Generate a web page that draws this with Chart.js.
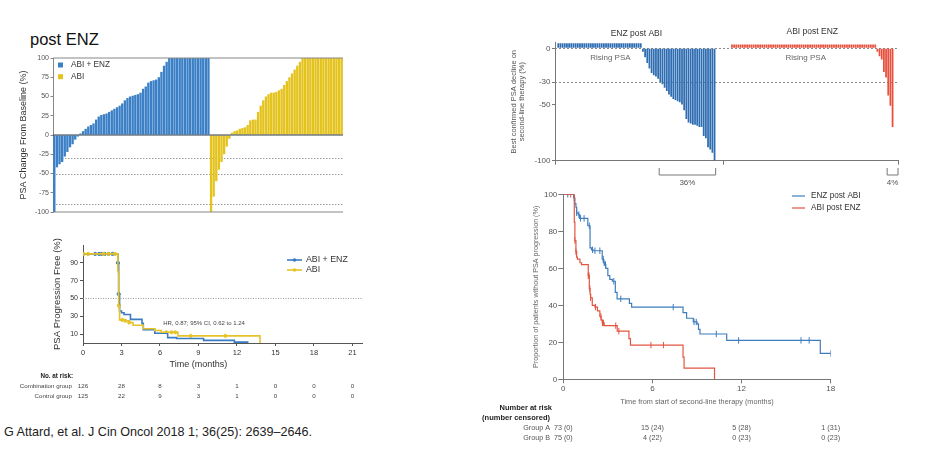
<!DOCTYPE html>
<html><head><meta charset="utf-8">
<script src="https://cdn.jsdelivr.net/npm/chart.js@4.4.0/dist/chart.umd.min.js"></script>
<style>
html,body{margin:0;padding:0;background:#fff;width:936px;height:452px;overflow:hidden;font-family:"Liberation Sans",Arial,sans-serif;}
canvas{position:absolute;}
#title{position:absolute;left:30px;top:31px;font-size:16.5px;line-height:1;color:#111;}
#cite{position:absolute;left:4px;top:425.5px;font-size:12.6px;line-height:1;color:#222;white-space:nowrap;}
</style></head><body>
<div id="title">post ENZ</div>
<div id="cite">G Attard, et al. J Cin Oncol 2018 1; 36(25): 2639–2646.</div>
<canvas id="cA" width="350" height="175" style="left:0;top:45px"></canvas>
<canvas id="cB" width="375" height="175" style="left:0;top:235px"></canvas>
<canvas id="cC" width="420" height="175" style="left:490px;top:20px"></canvas>
<canvas id="cD" width="430" height="265" style="left:480px;top:185px"></canvas>
<script>
// ---------- Chart A: waterfall (post ENZ) ----------
const aBlueValues = [-100,-42,-38,-35,-28,-22,-16,-12,-6,-2,2,5,8,11,13,15,20,24,26,27,28,30,32,34,36,38,41,45,48,50,51,52,53,55,60,63,68,70,71,72,75,82,90,95,100,100,100,100,100,100,100,100,100,100,100,100,100,100,100,100];
const aYellowValues = [-100,-80,-60,-45,-35,-25,-15,-5,3,5,6,8,9,10,13,19,20,20,30,38,45,50,53,55,55,56,58,60,65,70,75,80,85,90,95,100,100,100,100,100,100,100,100,100,100,100,100,100,100,100,100];
const aSeriesNames = ['ABI + ENZ','ABI'];
const aYTicks = [-100,-75,-50,-25,0,25,50,75,100];
const aRefLines = [-30,-50,-90];

// ---------- Chart B: KM PSA progression free ----------
const bComboCurve = [[0,100],[2.68,100],[2.72,90],[2.78,55],[2.85,36],[3.0,34],[3.2,32],[3.7,26.5],[4.6,22],[4.7,15],[5.6,11],[6.6,6],[7.3,5],[9.4,3],[11.8,1],[12.9,1]];
const bControlCurve = [[0,100],[2.66,100],[2.72,80],[2.78,42],[2.85,26],[3.3,25],[3.6,23],[3.9,20],[4.7,16],[5.6,14],[6.1,12],[7.4,8],[13.8,8],[13.8,0]];
const bComboCensor = [0.95,1.25,1.45,1.7,2.0,2.3,2.72,2.78];
const bControlCensor = [0.05,0.4,1.6,2.0,2.5,2.8,3.05,3.3,3.6,6.5,6.9,7.2,8.4,11.1];
const bSeriesNames = ['ABI + ENZ','ABI'];
const bXTicks = [0,3,6,9,12,15,18,21];
const bYTicks = [10,20,30,40,50,60,70,80,90,100];
const bRiskCombo = [126,28,8,3,1,0,0,0];
const bRiskControl = [125,22,9,3,1,0,0,0];
const bHR = 'HR, 0.87; 95% CI, 0.62 to 1.24';

// ---------- Chart C: best PSA decline waterfall ----------
const cBlueValues = [4.5,4.5,4.5,4.5,4.5,4.5,4.5,4.5,4.5,4.5,
 4.5,4.5,4.5,4.5,4.5,4.5,4.5,4.5,4.5,4.5,
 4.5,4.5,4.5,4.5,4.5,4.5,4.5,4.5,4.5,4.5,
 4.5,4.5,4.5,4.5,4.5,4.5,4.5,4.5,4.5,
 -3,-8,-13,-18,-22,-24,-25,-27,-30,-32,-35,-38,-41,-43,-45,-46,-47,-48,-50,-55,-63,-66,-67,-68,-68,-69,-70,-70,-78,-80,-88,-90,-93,-100];
const cRedValues = [3.5,3.5,3.5,3.5,3.5,3.5,3.5,3.5,3.5,3.5,
 3.5,3.5,3.5,3.5,3.5,3.5,3.5,3.5,3.5,3.5,
 3.5,3.5,3.5,3.5,3.5,3.5,3.5,3.5,3.5,3.5,
 3.5,3.5,3.5,3.5,3.5,3.5,3.5,3.5,3.5,3.5,
 3.5,3.5,3.5,3.5,3.5,3.5,3.5,3.5,3.5,3.5,
 3.5,3.5,3.5,3.5,3.5,3.5,3.5,3.5,3.5,3.5,
 3.5,3.5,3.5,3.5,3.5,3.5,3.5,
 -3,-7,-10,-21,-26,-42,-51,-70];
const cGroupNames = ['ENZ post ABI','ABI post ENZ'];
const cYTicks = [-100,-50,-30,0];
const cRefLines = [0,-30];
const cBracketLabels = ['36%','4%'];

// ---------- Chart D: KM proportion without PSA progression ----------
const dEnzCurve = [[0,100],[0.7,98],[0.78,95],[0.85,93],[0.9,90],[1.0,89],[1.1,87],[1.65,83],[1.8,71],[1.9,70],[2.0,69.5],[2.62,65],[2.7,63],[2.78,62],[2.86,60],[3.0,56],[3.13,54],[3.3,53],[3.5,47],[3.62,43.5],[4.45,41],[4.6,39],[8.06,36],[8.3,33],[8.75,31],[9.0,30],[9.1,27],[9.2,24.5],[11.0,21],[17.3,14],[18.0,14]];
const dAbiCurve = [[0,100],[0.74,85],[0.78,75],[0.85,69],[0.9,66],[0.95,65],[1.12,63],[1.23,62],[1.68,56],[1.75,49],[1.8,46],[1.84,44],[1.95,40],[2.13,39],[2.3,37],[2.46,34],[2.55,32],[2.62,30.5],[2.75,29],[3.63,26],[4.42,22],[4.52,18.5],[8.06,12],[8.13,6],[10.18,0]];
const dEnzCensor = [0.3,0.74,0.9,1.05,1.16,1.4,1.75,1.97,2.13,2.46,2.69,2.75,2.84,3.4,3.87,7.4,8.8,8.95,10.3,11.8,16.0,16.55,18.0];
const dAbiCensor = [0.5,0.78,0.85,1.68,1.73,1.79,1.84,2.17,2.53,2.64,2.7,3.53,3.74,5.9,6.74];
const dSeriesNames = ['ENZ post ABI','ABI post ENZ'];
const dXTicks = [0,6,12,18];
const dYTicks = [0,20,40,60,80,100];
const dRiskA = ['73 (0)','15 (24)','5 (28)','1 (31)'];
const dRiskB = ['75 (0)','4 (22)','0 (23)','0 (23)'];

// ---------- helpers ----------
const FONT = '"Liberation Sans", Arial, sans-serif';
Chart.defaults.font.family = FONT;
function txt(ctx, s, x, y, size, color, align, weight){
  ctx.save(); ctx.font = (weight||'normal')+' '+size+'px '+FONT; ctx.fillStyle = color;
  ctx.textAlign = align||'left'; ctx.textBaseline = 'middle'; ctx.fillText(s, x, y); ctx.restore();
}
function hline(ctx, x1, x2, y, color, w, dash){
  ctx.save(); ctx.strokeStyle = color; ctx.lineWidth = w; ctx.setLineDash(dash||[]);
  ctx.beginPath(); ctx.moveTo(x1, y); ctx.lineTo(x2, y); ctx.stroke(); ctx.restore();
}
function stepAt(curve, t){ let v = curve[0][1]; for (const p of curve){ if (p[0] <= t) v = p[1]; } return v; }
const toXY = c => c.map(p => ({x:p[0], y:p[1]}));
const censorXY = (times, curve) => times.map(t => ({x:t, y:stepAt(curve, t)}));
const fixTicks = arr => (s => { s.ticks = arr.map(v => ({value:v})); });
// Kaplan-Meier step: horizontal first, then vertical drop at the next time
const KM_STEP = 'before';

// ---------- Chart A ----------
const A_BLUE = '#3b80c6', A_YELLOW = '#e4c31e';
const aCats = aBlueValues.concat(aYellowValues).map((_, i) => String(i + 1));
new Chart(document.getElementById('cA'), {
  type:'bar',
  data:{labels:aCats, datasets:[
    {label:aSeriesNames[0], data:aBlueValues.concat(aYellowValues.map(() => null)), backgroundColor:A_BLUE, grouped:false, barPercentage:0.9, categoryPercentage:1},
    {label:aSeriesNames[1], data:aBlueValues.map(() => null).concat(aYellowValues), backgroundColor:A_YELLOW, grouped:false, barPercentage:0.9, categoryPercentage:1}
  ]},
  options:{responsive:false, animation:false, devicePixelRatio:1,
    layout:{padding:{top:13, right:7, bottom:8, left:0}},
    plugins:{legend:{display:false}, tooltip:{enabled:false}},
    scales:{
      x:{display:false, offset:true},
      y:{min:-100, max:100, afterBuildTicks:fixTicks(aYTicks), afterFit:s => { s.width = 53; },
        ticks:{font:{size:7}, color:'#555', padding:1.5},
        grid:{drawOnChartArea:false, tickLength:2.5, color:'#888'}, border:{color:'#888'},
        title:{display:true, text:'PSA Change From Baseline (%)', font:{size:9}, color:'#333', padding:{top:18.5, bottom:0}}}
    }},
  plugins:[{id:'aDeco',
    beforeDatasetsDraw(c){
      const {ctx, chartArea:ca, scales:{y}} = c;
      aRefLines.forEach(v => hline(ctx, ca.left, ca.right, Math.round(y.getPixelForValue(v)) + 0.5, '#9a9a9a', 1, [1.5, 1.5]));
    },
    afterDatasetsDraw(c){
      const {ctx, chartArea:ca, scales:{y}} = c;
      hline(ctx, ca.left, ca.right, y.getPixelForValue(0), '#2a3b4f', 1.2);
      hline(ctx, ca.left, ca.right, ca.top, '#888', 1.2);
      hline(ctx, ca.left, ca.right, ca.bottom, '#888', 1.2);
      c.data.datasets.forEach((ds, i) => {
        const yy = ca.top + 7 + i * 11.7;
        ctx.fillStyle = ds.backgroundColor; ctx.fillRect(ca.left + 5, yy - 2.5, 5, 5);
        txt(ctx, ds.label, ca.left + 18, yy, 8.2, '#333');
      });
    }}]
});

// ---------- Chart B ----------
const B_BLUE = '#3a7cc2', B_YELLOW = '#e5c32a';
new Chart(document.getElementById('cB'), {
  type:'line',
  data:{datasets:[
    {label:bSeriesNames[1], data:toXY(bControlCurve), borderColor:B_YELLOW, borderWidth:1.6, stepped:KM_STEP, pointRadius:0, fill:false},
    {label:bSeriesNames[0], data:toXY(bComboCurve), borderColor:B_BLUE, borderWidth:1.6, stepped:KM_STEP, pointRadius:0, fill:false},
    {label:'c1', data:censorXY(bControlCensor, bControlCurve), showLine:false, pointRadius:1.6, pointBackgroundColor:B_YELLOW, pointBorderColor:B_YELLOW, borderColor:B_YELLOW},
    {label:'c2', data:censorXY(bComboCensor, bComboCurve), showLine:false, pointRadius:1.6, pointBackgroundColor:B_BLUE, pointBorderColor:B_BLUE, borderColor:B_BLUE}
  ]},
  options:{responsive:false, animation:false, devicePixelRatio:1,
    layout:{padding:{top:10, right:13, bottom:53, left:0}},
    plugins:{legend:{display:false}, tooltip:{enabled:false}},
    scales:{
      x:{type:'linear', min:0, max:21.75, afterBuildTicks:fixTicks(bXTicks), afterFit:s => { s.height = 14; },
        ticks:{font:{size:7.5}, color:'#333', padding:2, maxRotation:0},
        grid:{drawOnChartArea:false, tickLength:3, color:'#555'}, border:{color:'#555'}},
      y:{min:0, max:110, afterBuildTicks:fixTicks(bYTicks), afterFit:s => { s.width = 83; },
        ticks:{font:{size:7}, color:'#333', padding:2},
        grid:{drawOnChartArea:false, tickLength:3, color:'#555'}, border:{color:'#555'},
        title:{display:true, text:'PSA Progression Free (%)', font:{size:9.5}, color:'#333', padding:{top:52, bottom:0}}}
    }},
  plugins:[{id:'bDeco',
    beforeDatasetsDraw(c){
      const {ctx, chartArea:ca, scales:{y}} = c;
      hline(ctx, ca.left, ca.right, Math.round(y.getPixelForValue(50)) + 0.5, '#9a9a9a', 1, [1, 1.5]);
    },
    afterDraw(c){
      const {ctx, chartArea:ca, scales:{x, y}} = c;
      txt(ctx, 'Time (months)', x.getPixelForValue(9), 130, 9, '#333', 'center');
      txt(ctx, bHR, x.getPixelForValue(6.25), y.getPixelForValue(22.5), 6, '#444');
      // legend
      [[bSeriesNames[0], B_BLUE, 25], [bSeriesNames[1], B_YELLOW, 35]].forEach(([lab, col, yy]) => {
        hline(ctx, 287, 302, yy, col, 1.6);
        ctx.save(); ctx.fillStyle = col; ctx.beginPath(); ctx.arc(294.5, yy, 1.8, 0, Math.PI * 2); ctx.fill(); ctx.restore();
        txt(ctx, lab, 306, yy, 8.8, '#333');
      });
      // risk table
      txt(ctx, 'No. at risk:', 73, 141, 6.3, '#222', 'right', 'bold');
      txt(ctx, 'Combination group', 72, 151.7, 6.2, '#444', 'right');
      txt(ctx, 'Control group', 72, 161, 6.2, '#444', 'right');
      bXTicks.forEach((t, i) => {
        txt(ctx, String(bRiskCombo[i]), x.getPixelForValue(t), 151.7, 6.2, '#444', 'center');
        txt(ctx, String(bRiskControl[i]), x.getPixelForValue(t), 161, 6.2, '#444', 'center');
      });
    }}]
});

// ---------- Chart C ----------
const C_BLUE = '#2f6db2', C_RED = '#e8503e';
const cLead = 1, cGap = 7, cTail = 2;
const cTotal = cLead + cBlueValues.length + cGap + cRedValues.length + cTail;
const cCats = Array.from({length:cTotal}, (_, i) => String(i));
const cRedStart = cLead + cBlueValues.length + cGap;
const cBlueData = cCats.map((_, i) => (i >= cLead && i < cLead + cBlueValues.length) ? cBlueValues[i - cLead] : null);
const cRedData = cCats.map((_, i) => (i >= cRedStart && i < cRedStart + cRedValues.length) ? cRedValues[i - cRedStart] : null);
new Chart(document.getElementById('cC'), {
  type:'bar',
  data:{labels:cCats, datasets:[
    {label:cGroupNames[0], data:cBlueData, backgroundColor:C_BLUE, grouped:false, barPercentage:0.82, categoryPercentage:1},
    {label:cGroupNames[1], data:cRedData, backgroundColor:C_RED, grouped:false, barPercentage:0.82, categoryPercentage:1}
  ]},
  options:{responsive:false, animation:false, devicePixelRatio:1,
    layout:{padding:{top:22.7, right:12, bottom:34.3, left:0}},
    plugins:{legend:{display:false}, tooltip:{enabled:false}},
    scales:{
      x:{offset:true, afterFit:s => { s.height = 0; }, ticks:{display:false}, grid:{display:false}, border:{color:'#777', width:1}},
      y:{min:-100, max:5, afterBuildTicks:fixTicks(cYTicks), afterFit:s => { s.width = 65; },
        ticks:{font:{size:8}, color:'#555', padding:1.5},
        grid:{drawOnChartArea:false, tickLength:3, color:'#777'}, border:{color:'#777'},
        title:{display:true, text:['Best confirmed PSA decline on', 'second-line therapy (%)'], font:{size:7.5, lineHeight:1.1}, color:'#555', padding:{top:20, bottom:0}}}
    }},
  plugins:[{id:'cDeco',
    beforeDatasetsDraw(c){
      const {ctx, chartArea:ca, scales:{y}} = c;
      cRefLines.forEach(v => hline(ctx, ca.left, ca.right, Math.round(y.getPixelForValue(v)) + 0.5, '#8a8a8a', 1, [2, 2]));
    },
    afterDraw(c){
      const {ctx, chartArea:ca, scales:{x}} = c;
      const bw = x.getPixelForValue(1) - x.getPixelForValue(0);
      const bEnd = cLead + cBlueValues.length - 1, rEnd = cRedStart + cRedValues.length - 1;
      txt(ctx, cGroupNames[0], (x.getPixelForValue(cLead) + x.getPixelForValue(bEnd)) / 2, 13.5, 8.5, '#333', 'center');
      txt(ctx, cGroupNames[1], (x.getPixelForValue(cRedStart) + x.getPixelForValue(rEnd)) / 2, 11.7, 8.5, '#333', 'center');
      txt(ctx, 'Rising PSA', x.getPixelForValue(cLead + 24), 38, 8, '#666', 'center');
      txt(ctx, 'Rising PSA', x.getPixelForValue(cRedStart + 34), 38, 8, '#666', 'center');
      // axis tick marks
      const gapMid = x.getPixelForValue(cLead + cBlueValues.length + Math.floor(cGap / 2));
      ctx.save(); ctx.strokeStyle = '#777'; ctx.lineWidth = 1;
      [ca.left, gapMid, ca.right].forEach(px => { ctx.beginPath(); ctx.moveTo(Math.round(px) + 0.5, ca.bottom); ctx.lineTo(Math.round(px) + 0.5, ca.bottom + 4); ctx.stroke(); });
      // brackets
      const bFirst = cLead + cBlueValues.findIndex(v => v <= -30);
      const rFirst = cRedStart + cRedValues.findIndex(v => v <= -30);
      [[x.getPixelForValue(bFirst) - bw / 2, x.getPixelForValue(bEnd) + bw / 2, cBracketLabels[0]],
       [x.getPixelForValue(rFirst) - bw / 2, ca.right, cBracketLabels[1]]].forEach(([x1, x2, lab]) => {
        ctx.beginPath(); ctx.moveTo(x1, 148); ctx.lineTo(x1, 155); ctx.lineTo(x2, 155); ctx.lineTo(x2, 148); ctx.stroke();
        txt(ctx, lab, (x1 + x2) / 2, 162.7, 8, '#555', 'center');
      });
      ctx.restore();
    }}]
});

// ---------- Chart D ----------
const D_BLUE = '#3d7dbd', D_RED = '#e2553f';
const censorStyle = col => ({showLine:false, pointStyle:'line', rotation:90, pointRadius:3.2, pointBorderWidth:1, pointBorderColor:col, borderColor:col, backgroundColor:col});
new Chart(document.getElementById('cD'), {
  type:'line',
  data:{datasets:[
    {label:dSeriesNames[1], data:toXY(dAbiCurve), borderColor:D_RED, borderWidth:1.2, stepped:KM_STEP, pointRadius:0, fill:false},
    {label:dSeriesNames[0], data:toXY(dEnzCurve), borderColor:D_BLUE, borderWidth:1.2, stepped:KM_STEP, pointRadius:0, fill:false},
    Object.assign({label:'cr', data:censorXY(dAbiCensor, dAbiCurve)}, censorStyle(D_RED)),
    Object.assign({label:'cb', data:censorXY(dEnzCensor, dEnzCurve)}, censorStyle(D_BLUE))
  ]},
  options:{responsive:false, animation:false, devicePixelRatio:1,
    layout:{padding:{top:9.3, right:79.3, bottom:40.7, left:0}},
    plugins:{legend:{display:false}, tooltip:{enabled:false}},
    scales:{
      x:{type:'linear', min:0, max:18, afterBuildTicks:fixTicks(dXTicks), afterFit:s => { s.height = 30; },
        ticks:{font:{size:8}, color:'#555', padding:1, maxRotation:0},
        grid:{drawOnChartArea:false, tickLength:4, color:'#777'}, border:{color:'#777'},
        title:{display:true, text:'Time from start of second-line therapy (months)', font:{size:7.3}, color:'#666', padding:{top:0, bottom:3}}},
      y:{min:0, max:100, afterBuildTicks:fixTicks(dYTicks), afterFit:s => { s.width = 83.3; },
        ticks:{font:{size:8}, color:'#555', padding:1},
        grid:{drawOnChartArea:false, tickLength:5, color:'#777'}, border:{color:'#777'},
        title:{display:true, text:'Proportion of patients without PSA progression (%)', font:{size:7.2}, color:'#666', padding:{top:51.5, bottom:0}}}
    }},
  plugins:[{id:'dDeco',
    afterDraw(c){
      const {ctx, scales:{x}} = c;
      [[dSeriesNames[0], D_BLUE, 11], [dSeriesNames[1], D_RED, 23]].forEach(([lab, col, yy]) => {
        hline(ctx, 312, 325, yy, col, 1.2);
        txt(ctx, lab, 331, yy, 8.2, '#333');
      });
      txt(ctx, 'Number at risk', 72, 223, 7.5, '#222', 'right', 'bold');
      txt(ctx, '(number censored)', 70, 232.7, 7.5, '#222', 'right', 'bold');
      txt(ctx, 'Group A', 70, 243.3, 7.2, '#555', 'right');
      txt(ctx, 'Group B', 70, 253.3, 7.2, '#555', 'right');
      dXTicks.forEach((t, i) => {
        txt(ctx, dRiskA[i], x.getPixelForValue(t), 243.3, 7.2, '#555', 'center');
        txt(ctx, dRiskB[i], x.getPixelForValue(t), 253.3, 7.2, '#555', 'center');
      });
    }}]
});
</script>
</body></html>
